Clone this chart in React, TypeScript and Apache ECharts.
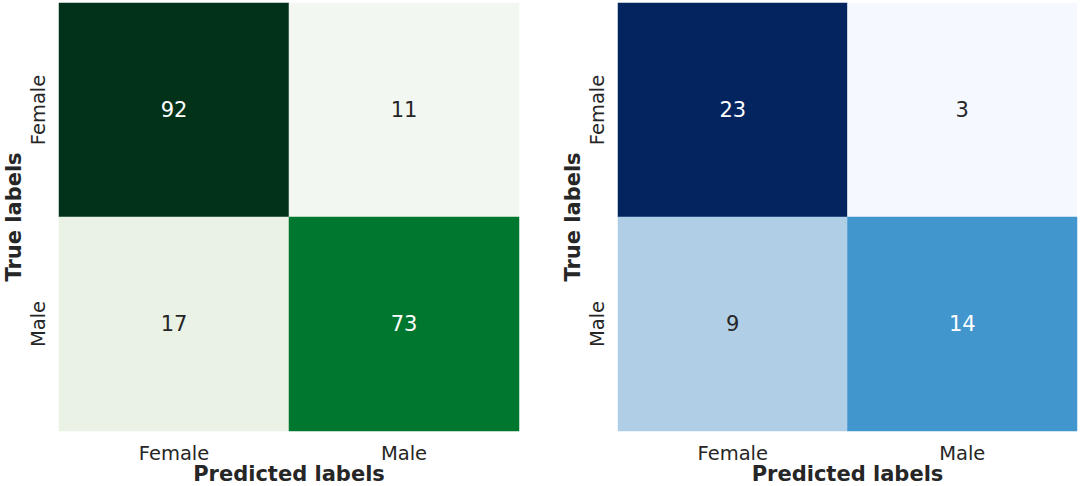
import React, { useEffect, useRef } from "react";
import * as echarts from "echarts";

const classes = ["Female", "Male"];
// rows = true labels, cols = predicted labels
const greensMatrix = [
  [92, 11],
  [17, 73],
];
const bluesMatrix = [
  [23, 3],
  [9, 14],
];
const xAxisName = "Predicted labels";
const yAxisName = "True labels";

// cell colours (row-major)
const greensColors = [
  ["#02331a", "#f2f8f1"],
  ["#e9f2e5", "#00772f"],
];
const bluesColors = [
  ["#03245f", "#f5f9ff"],
  ["#b1cee7", "#4196cd"],
];

const FONT = "DejaVu Sans";

function buildData(matrix: number[][]) {
  const flat = matrix.flat();
  const mn = Math.min(...flat);
  const mx = Math.max(...flat);
  const out: any[] = [];
  matrix.forEach((row, r) => {
    row.forEach((v, c) => {
      const dark = (v - mn) / (mx - mn) > 0.5;
      out.push({
        value: [c, r, v],
        label: { color: dark ? "#ffffff" : "#262626" },
      });
    });
  });
  return out;
}

function buildPieces(matrix: number[][], colors: string[][]) {
  const pieces: any[] = [];
  matrix.forEach((row, r) => row.forEach((v, c) => pieces.push({ value: v, color: colors[r][c] })));
  return pieces;
}

export default function App() {
  const ref = useRef<HTMLDivElement>(null);
  useEffect(() => {
    if (!ref.current) return;
    const chart = echarts.init(ref.current, null, { renderer: "svg" });
    const grids = [
      { left: 59, top: 3, width: 460, height: 428, containLabel: false, outerBoundsMode: "none" },
      { left: 618, top: 3, width: 459, height: 428, containLabel: false, outerBoundsMode: "none" },
    ];
    const mkX = (i: number) => ({
      type: "category",
      gridIndex: i,
      data: classes,
      name: xAxisName,
      nameLocation: "middle",
      nameGap: 33,
      nameMoveOverlap: false,
      nameTextStyle: { fontFamily: FONT, fontSize: 21, lineHeight: 20, fontWeight: "bold", color: "#262626" },
      axisLine: { show: false },
      axisTick: { show: false },
      splitLine: { show: false },
      axisLabel: { fontFamily: FONT, fontSize: 19.5, color: "#262626", margin: 12 },
    });
    const mkY = (i: number) => ({
      type: "category",
      gridIndex: i,
      data: classes,
      inverse: true,
      name: yAxisName,
      nameLocation: "middle",
      nameGap: 35,
      nameRotate: 90,
      nameTextStyle: { fontFamily: FONT, fontSize: 21, fontWeight: "bold", color: "#262626" },
      axisLine: { show: false },
      axisTick: { show: false },
      splitLine: { show: false },
      axisLabel: { fontFamily: FONT, fontSize: 19.5, color: "#262626", margin: 11, rotate: 90 },
    });
    const mkSeries = (i: number, data: any[]) => ({
      type: "heatmap",
      xAxisIndex: i,
      yAxisIndex: i,
      data,
      label: {
        show: true,
        fontFamily: FONT,
        fontSize: 21,
        formatter: (p: any) => String(p.value[2]),
      },
      itemStyle: { borderWidth: 0 },
      emphasis: { disabled: true },
    });
    chart.setOption({
      animation: false,
      backgroundColor: "#ffffff",
      grid: grids,
      xAxis: [mkX(0), mkX(1)],
      yAxis: [mkY(0), mkY(1)],
      visualMap: [
        { type: "piecewise", show: false, seriesIndex: 0, dimension: 2, pieces: buildPieces(greensMatrix, greensColors) },
        { type: "piecewise", show: false, seriesIndex: 1, dimension: 2, pieces: buildPieces(bluesMatrix, bluesColors) },
      ],
      series: [
        mkSeries(0, buildData(greensMatrix)),
        mkSeries(1, buildData(bluesMatrix)),
      ],
    });
    return () => chart.dispose();
  }, []);
  return (
    <div
      ref={ref}
      style={{ position: "fixed", left: 0, top: 0, width: 1080, height: 486, background: "#fff" }}
    />
  );
}
